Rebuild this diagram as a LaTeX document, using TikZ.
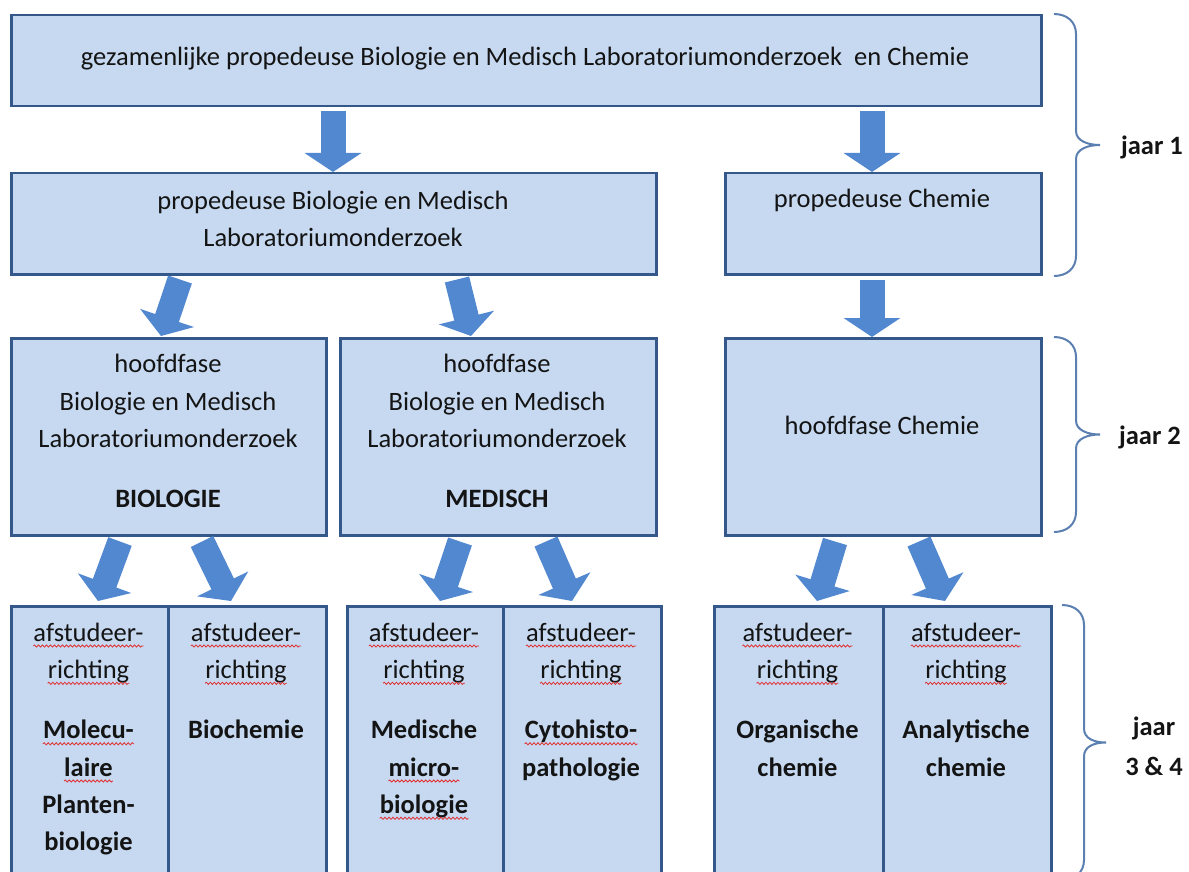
\documentclass[tikz,border=0pt]{standalone}
\usepackage{fontspec}
\setmainfont{Carlito}
\usetikzlibrary{arrows.meta,calc,decorations.pathmorphing}
\definecolor{boxfill}{HTML}{C6D9F1}
\definecolor{boxline}{HTML}{35588A}
\definecolor{arrowblue}{HTML}{5288D0}
\definecolor{bracecol}{HTML}{5A7FB0}
\definecolor{txt}{HTML}{141414}
\definecolor{squig}{HTML}{E03030}
\tikzset{
  box/.style={draw=boxline, line width=2.5pt, fill=boxfill, inner sep=0pt, anchor=north west},
  lbl/.style={text=txt, font=\fontsize{26.5}{37.5}\selectfont, align=center, inner sep=0pt},
  linelbl/.style={text=txt, font=\fontsize{26.5}{37.5}\selectfont, inner sep=0pt, anchor=base},
  yearlbl/.style={text=txt, font=\fontsize{26.5}{40}\selectfont\bfseries, align=center, inner sep=0pt},
  fatarrow/.style={draw=arrowblue, line width=25pt, -{Triangle[width=56pt,length=19pt]}},
  yearbrace/.style={draw=bracecol, line width=2pt},
  squiggle/.style={draw=squig, line width=0.8pt, decorate, decoration={snake, amplitude=1.1pt, segment length=4pt}},
}
\newcommand\plainline[4]{\node[linelbl] (#1) at (#2,#3) {#4};}
\newcommand\sqline[4]{\node[linelbl] (#1) at (#2,#3) {#4};
  \draw[squiggle] ([yshift=-5pt]#1.base west) -- ([yshift=-5pt]#1.base east);}
\newcommand\yearbr[5]{%
  \draw[yearbrace] (#1,#4) .. controls ({#1+0.6*(#2-#1)},#4) and (#2,{#4+8}) .. (#2,{#4+20})
    -- (#2,{(#4+#5)/2-14}) .. controls (#2,{(#4+#5)/2-4}) and ({#3-12},{(#4+#5)/2}) .. (#3,{(#4+#5)/2})
    .. controls ({#3-12},{(#4+#5)/2}) and (#2,{(#4+#5)/2+4}) .. (#2,{(#4+#5)/2+14})
    -- (#2,{#5-20}) .. controls (#2,{#5-8}) and ({#1+0.6*(#2-#1)},#5) .. (#1,#5);}
\begin{document}
\begin{tikzpicture}[x=1pt,y=-1pt]
\useasboundingbox (0,0) rectangle (1189,872);
\clip (0,0) rectangle (1189,872);
% row 1
\node[box, minimum width=1030pt, minimum height=91pt] (top) at (10,14) {};
\node[lbl] (ttop) at (525,59) {gezamenlijke propedeuse Biologie en Medisch Laboratoriumonderzoek\ \ en Chemie};
% row 2
\node[box, minimum width=645pt, minimum height=101pt] (boxA) at (10,172) {};
\node[lbl] (tboxA) at (333,219) {propedeuse Biologie en Medisch\\Laboratoriumonderzoek};
\node[box, minimum width=316pt, minimum height=101pt] (pc) at (724,172) {};
\node[lbl] (tpc) at (882,200) {propedeuse Chemie};
% row 3
\node[box, minimum width=315pt, minimum height=197pt] (hb) at (10,337) {};
\node[lbl] (thb) at (168,431) {hoofdfase\\Biologie en Medisch\\Laboratoriumonderzoek\\[22.5pt]\textbf{BIOLOGIE}};
\node[box, minimum width=316pt, minimum height=197pt] (hm) at (339,337) {};
\node[lbl] (thm) at (497,431) {hoofdfase\\Biologie en Medisch\\Laboratoriumonderzoek\\[22.5pt]\textbf{MEDISCH}};
\node[box, minimum width=316pt, minimum height=197pt] (hc) at (724,337) {};
\node[lbl] (thc) at (882,425) {hoofdfase Chemie};
% row 4
\node[box, minimum width=157pt, minimum height=290pt] (b1) at (10,605) {};
\node[box, minimum width=158pt, minimum height=290pt] (b2) at (167,605) {};
\node[box, minimum width=156pt, minimum height=290pt] (m1) at (346,605) {};
\node[box, minimum width=158pt, minimum height=290pt] (m2) at (502,605) {};
\node[box, minimum width=169pt, minimum height=290pt] (c1) at (713,605) {};
\node[box, minimum width=168pt, minimum height=290pt] (c2) at (882,605) {};
% column texts
\sqline{b1a}{88.5}{641}{afstudeer-}
\sqline{b1b}{88.5}{678.3}{richting}
\sqline{b1c}{88.5}{738.8}{\textbf{Molecu-}}
\sqline{b1d}{88.5}{776}{\textbf{laire}}
\plainline{b1e}{88.5}{813.3}{\textbf{Planten-}}
\plainline{b1f}{88.5}{850.6}{\textbf{biologie}}
\sqline{b2a}{246}{641}{afstudeer-}
\sqline{b2b}{246}{678.3}{richting}
\plainline{b2c}{246}{738.8}{\textbf{Biochemie}}
\sqline{m1a}{424}{641}{afstudeer-}
\sqline{m1b}{424}{678.3}{richting}
\plainline{m1c}{424}{738.8}{\textbf{Medische}}
\sqline{m1d}{424}{776}{\textbf{micro-}}
\sqline{m1e}{424}{813.3}{\textbf{biologie}}
\sqline{m2a}{581}{641}{afstudeer-}
\sqline{m2b}{581}{678.3}{richting}
\sqline{m2c}{581}{738.8}{\textbf{Cytohisto-}}
\plainline{m2d}{581}{776}{\textbf{pathologie}}
\sqline{c1a}{797.5}{641}{afstudeer-}
\sqline{c1b}{797.5}{678.3}{richting}
\plainline{c1c}{797.5}{738.8}{\textbf{Organische}}
\plainline{c1d}{797.5}{776}{\textbf{chemie}}
\sqline{c2a}{966}{641}{afstudeer-}
\sqline{c2b}{966}{678.3}{richting}
\plainline{c2c}{966}{738.8}{\textbf{Analytische}}
\plainline{c2d}{966}{776}{\textbf{chemie}}
% arrows
\draw[fatarrow] ($(top.south west)+(323,4)$) -- ($(boxA.north west)+(323,0)$);
\draw[fatarrow] ($(top.south west)+(862,4)$) -- ($(pc.north west)+(148,0)$);
\draw[fatarrow] ($(boxA.south west)+(170,4)$) -- ($(hb.north west)+(151,-1)$);
\draw[fatarrow] ($(boxA.south west)+(447,4)$) -- ($(hm.north west)+(132,-1)$);
\draw[fatarrow] ($(pc.south west)+(148,4)$) -- ($(hc.north west)+(148,0)$);
\draw[fatarrow] ($(hb.south west)+(110,5)$) -- ($(b1.north west)+(88,-4)$);
\draw[fatarrow] ($(hb.south west)+(192,5)$) -- ($(b2.north west)+(64,-4)$);
\draw[fatarrow] ($(hm.south west)+(121,5)$) -- ($(m1.north west)+(94,-4)$);
\draw[fatarrow] ($(hm.south west)+(207,5)$) -- ($(m2.north west)+(70,-4)$);
\draw[fatarrow] ($(hc.south west)+(111,5)$) -- ($(c1.north west)+(104,-4)$);
\draw[fatarrow] ($(hc.south west)+(195,5)$) -- ($(c2.north west)+(63,-4)$);
% braces and year labels
\yearbr{1054}{1076}{1100}{14}{276}
\yearbr{1054}{1076}{1100}{337}{532}
\yearbr{1062}{1084}{1106}{605}{880}
\node[yearlbl] (j1) at (1152,147) {jaar 1};
\node[yearlbl] (j2) at (1150,437) {jaar 2};
\node[yearlbl] (j3) at (1154,746) {jaar\\3 \& 4};
\end{tikzpicture}
\end{document}
